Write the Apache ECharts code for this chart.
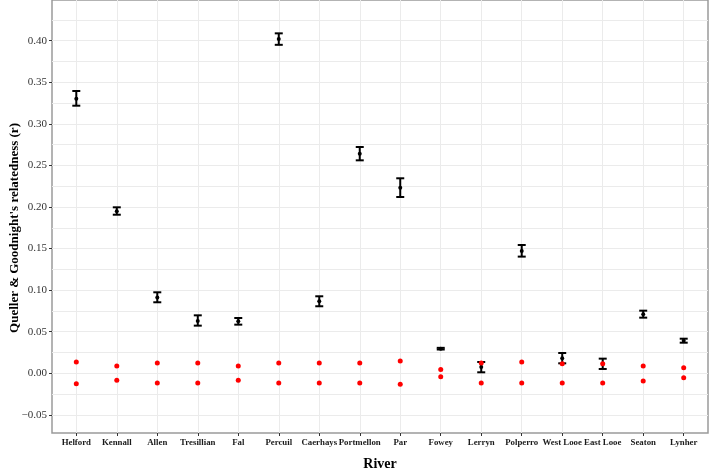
<!DOCTYPE html>
<html><head><meta charset="utf-8">
<script src="https://cdn.jsdelivr.net/npm/echarts@6/dist/echarts.min.js"></script>
<style>html,body{margin:0;padding:0;background:#fff}#c{width:709px;height:469px}</style>
</head><body><div id="c"></div>
<script>
var rivers = ['Helford','Kennall','Allen','Tresillian','Fal','Percuil','Caerhays','Portmellon','Par','Fowey','Lerryn','Polperro','West Looe','East Looe','Seaton','Lynher'];
var meanR  = [0.330,0.195,0.091,0.063,0.0625,0.402,0.0866,0.264,0.223,0.0296,0.0075,0.147,0.018,0.0115,0.071,0.039];
var lowerR = [0.3218,0.1907,0.0854,0.0573,0.0585,0.395,0.0806,0.2561,0.212,0.0286,0.0012,0.1403,0.012,0.0052,0.0669,0.0368];
var upperR = [0.3395,0.1996,0.0974,0.0697,0.0665,0.4088,0.0926,0.2721,0.2345,0.0306,0.0136,0.1543,0.0244,0.0176,0.0753,0.0416];
var nullUpper = [0.0136,0.0088,0.0124,0.0124,0.0088,0.0124,0.0124,0.0124,0.0148,0.0045,0.0124,0.0136,0.0116,0.0116,0.0088,0.0068];
var nullLower = [-0.0125,-0.0084,-0.0117,-0.0117,-0.0084,-0.0117,-0.0117,-0.0117,-0.0132,-0.0043,-0.0117,-0.0117,-0.0117,-0.0117,-0.0093,-0.0053];
var yLabelTicks = [-0.05,0,0.05,0.10,0.15,0.20,0.25,0.30,0.35,0.40];
var yGridTicks = [-0.05,-0.025,0,0.025,0.05,0.075,0.10,0.125,0.15,0.175,0.20,0.225,0.25,0.275,0.30,0.325,0.35,0.375,0.40,0.425];
var yTitle = "Queller & Goodnight's relatedness (r)";
var xTitle = 'River';

var idx = rivers.map(function(_, i){ return i; });
var ebData = idx.map(function(i){ return [i, lowerR[i], upperR[i]]; });
var meanData = idx.map(function(i){ return [i, meanR[i]]; });
var nullData = [];
idx.forEach(function(i){ nullData.push([i, nullUpper[i]]); nullData.push([i, nullLower[i]]); });

var FONT = 'Liberation Serif';
var chart = echarts.init(document.getElementById('c'));
chart.setOption({
  animation: false,
  grid: {left: 52, right: 1, top: 0, bottom: 36, containLabel: false, outerBoundsMode: 'none',
    show: true, borderColor: '#9a9a9a', borderWidth: 1.5, backgroundColor: '#fff'},
  graphic: [{
    type: 'text', x: 15, y: 228, rotation: Math.PI / 2,
    style: {text: yTitle, fontFamily: FONT, fontWeight: 'bold', fontSize: 13, fill: '#000',
      align: 'center', verticalAlign: 'middle'}
  }],
  xAxis: {
    type: 'value', min: -0.6, max: 15.6,
    axisLine: {show: false, onZero: false},
    axisTick: {show: true, customValues: idx, length: 3, lineStyle: {color: '#333', width: 1}},
    axisLabel: {customValues: idx, formatter: function(v){ return rivers[Math.round(v)]; },
      fontFamily: FONT, fontWeight: 'bold', fontSize: 8.8, color: '#1a1a1a', margin: 5},
    splitLine: {show: true, lineStyle: {color: '#ebebeb', width: 1}},
    name: xTitle, nameLocation: 'middle', nameGap: 24,
    nameTextStyle: {fontFamily: FONT, fontWeight: 'bold', fontSize: 14, color: '#000'}
  },
  yAxis: [{
    type: 'value', min: -0.0718, max: 0.4489, position: 'left',
    axisLine: {show: false, onZero: false},
    axisTick: {show: true, customValues: yLabelTicks, length: 3, lineStyle: {color: '#333', width: 1}},
    axisLabel: {customValues: yLabelTicks, formatter: function(v){ return (v < 0 ? '\u2212' : '') + Math.abs(v).toFixed(2); },
      fontFamily: FONT, fontSize: 11, color: '#333', margin: 5},
    splitLine: {show: false}
  }, {
    type: 'value', min: -0.0718, max: 0.4489, position: 'right',
    axisLine: {show: false, onZero: false},
    axisTick: {show: false, customValues: yGridTicks},
    axisLabel: {show: false},
    splitLine: {show: true, lineStyle: {color: '#ebebeb', width: 1}}
  }],
  series: [{
    type: 'custom', yAxisIndex: 0, z: 3,
    data: ebData,
    renderItem: function(params, api){
      var x = api.value(0);
      var lo = api.coord([x, api.value(1)]);
      var hi = api.coord([x, api.value(2)]);
      var half = 4;
      var st = {stroke: '#000', lineWidth: 2};
      return {type: 'group', children: [
        {type: 'line', shape: {x1: lo[0], y1: lo[1], x2: hi[0], y2: hi[1]}, style: st},
        {type: 'line', shape: {x1: lo[0]-half, y1: lo[1], x2: lo[0]+half, y2: lo[1]}, style: st},
        {type: 'line', shape: {x1: hi[0]-half, y1: hi[1], x2: hi[0]+half, y2: hi[1]}, style: st}
      ]};
    }
  }, {
    type: 'scatter', yAxisIndex: 0, z: 4, data: meanData, symbol: 'circle', symbolSize: 4,
    itemStyle: {color: '#000', opacity: 1}
  }, {
    type: 'scatter', yAxisIndex: 0, z: 5, data: nullData, symbol: 'circle', symbolSize: 5,
    itemStyle: {color: '#ff0000', opacity: 1}
  }]
});
</script></body></html>
